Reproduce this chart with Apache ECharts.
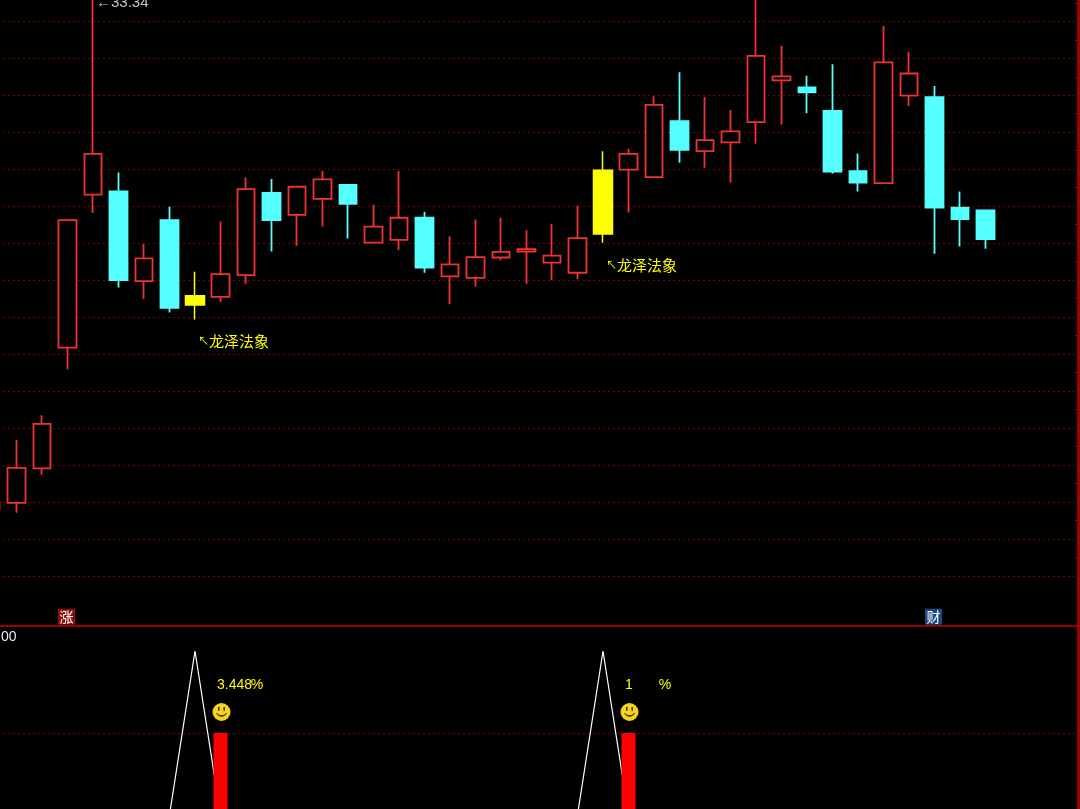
<!DOCTYPE html>
<html>
<head>
<meta charset="utf-8">
<style>
    html, body { margin: 0; padding: 0; background: #000; }
    #chart { width: 1080px; height: 809px; }
</style>
<script src="https://cdn.jsdelivr.net/npm/echarts@6/dist/echarts.min.js"></script>
</head>
<body>
<div id="chart"></div>
<script>
// K线数据
const opens  = [22.23, 22.38, 23.13, 25.74, 29.05, 29.12, 27.18, 28.50, 26.66, 26.84, 27.31, 29.09, 28.61, 28.96, 29.26, 28.01, 28.07, 28.55, 27.28, 27.25, 27.69, 27.82, 27.58, 27.36, 28.20, 29.59, 29.43, 30.64, 29.99, 30.18, 30.62, 31.52, 31.37, 30.86, 29.56, 29.30, 31.19, 31.16, 28.77, 28.71];
const closes = [22.40, 23.14, 24.09, 28.50, 29.93, 27.20, 27.67, 26.60, 26.86, 27.33, 29.17, 28.50, 29.22, 29.38, 28.85, 28.36, 28.55, 27.47, 27.54, 27.70, 27.81, 27.87, 27.73, 28.11, 29.58, 29.93, 30.99, 30.02, 30.23, 30.42, 32.05, 31.61, 31.26, 29.55, 29.31, 31.91, 31.67, 28.77, 28.52, 28.09];
const lows   = [22.05, 22.17, 22.99, 25.27, 28.65, 27.04, 26.79, 26.50, 26.35, 26.73, 27.12, 27.82, 27.94, 28.36, 28.10, 28.01, 27.85, 27.36, 26.68, 27.06, 27.63, 27.12, 27.20, 27.22, 28.01, 28.66, 29.43, 29.74, 29.63, 29.31, 30.15, 30.56, 30.81, 29.50, 29.12, 29.30, 30.97, 27.77, 27.93, 27.88];
const highs  = [22.66, 23.74, 24.28, 28.50, 33.34, 29.53, 27.98, 28.79, 27.38, 28.47, 29.42, 29.39, 29.22, 29.56, 29.28, 28.83, 29.56, 28.68, 28.15, 28.52, 28.55, 28.28, 28.42, 28.81, 29.99, 30.04, 31.18, 31.70, 31.16, 30.88, 33.30, 32.27, 31.62, 31.87, 29.94, 32.70, 32.14, 31.40, 29.12, 28.71];

// 信号日（黄色K线）及其标注
const signalDays = [8, 24];
const signalNotes = ['龙泽法象', '龙泽法象'];
const signalNotePrices = [25.88, 27.53];

// 最高价标注、底部角标
const highNote = '←33.34';
const highNoteDay = 4;
const badgeDays = [3, 37];
const badgeTexts = ['涨', '财'];
const badgeColors = ['#8a1212', '#1c4a80'];
const badgePrice = 19.92;

// 副图：白线尖峰、红柱、笑脸和百分比
const peakLine = [0, 0, 0, 0, 0, 0, 0, 0, 100, 0, 0, 0, 0, 0, 0, 0, 0, 0, 0, 0, 0, 0, 0, 0, 100, 0, 0, 0, 0, 0, 0, 0, 0, 0, 0, 0, 0, 0, 0, 0];
const redBarDays = [9, 25];
const redBarValues = [50, 50];
const faceLevel = 62.8;
const percentLevel = 80;
const percentTexts = ['3.448', '1'];
const subAxisText = '00';

// 后面留白的三根
const categories = opens.map((_, i) => i).concat([40, 41, 42]);

const priceMin = 20.8;
const priceMax = 33.6;
const priceStep = 0.8;

const RED = '#f03232';
const CYAN = '#55ffff';
const YELLOW = '#ffff00';
const GRID_RED = '#a00000';
const DOTS = [1.5, 3.5];
const FONT = '"Liberation Sans", sans-serif';
const CJK = '"Noto Sans CJK SC", sans-serif';

function kline(i) {
    return [opens[i], closes[i], lows[i], highs[i]];
}

// 只放文字的散点
function textSeries(name, xAxisIndex, yAxisIndex, points, label) {
    return {
        name: name,
        type: 'scatter',
        xAxisIndex: xAxisIndex,
        yAxisIndex: yAxisIndex,
        clip: false,
        silent: true,
        symbolSize: 0,
        z: 6,
        itemStyle: { opacity: 1 },
        data: points,
        label: Object.assign({ show: true, formatter: p => p.name }, label)
    };
}

function hiddenCategory(gridIndex) {
    return { type: 'category', gridIndex: gridIndex, data: categories, show: false };
}

const chart = echarts.init(document.getElementById('chart'), null, { renderer: 'canvas' });

chart.setOption({
    animation: false,
    backgroundColor: '#000',
    grid: [
        { left: -21.75, top: -15.7, width: 1096.5, height: 591.7, outerBoundsMode: 'none' },
        { left: -21.75, top: 651, width: 1096.5, height: 164, outerBoundsMode: 'none' },
        { left: 0, top: 0, width: 1078.5, height: 809, outerBoundsMode: 'none' }
    ],
    xAxis: [
        hiddenCategory(0),
        hiddenCategory(1),
        {
            type: 'value',
            gridIndex: 2,
            min: 0,
            max: 1,
            offset: -183,
            axisLine: { show: true, onZero: false, lineStyle: { color: '#c80000', width: 1.5 } },
            axisTick: { show: false },
            axisLabel: { show: false },
            splitLine: { show: false }
        }
    ],
    yAxis: [
        {
            type: 'value',
            gridIndex: 0,
            min: priceMin,
            max: priceMax,
            interval: priceStep,
            axisLine: { show: false },
            axisTick: { show: false },
            axisLabel: { show: false },
            splitLine: {
                showMaxLine: false,
                lineStyle: { color: GRID_RED, width: 1, type: DOTS }
            }
        },
        {
            // 右侧边框上的小刻度
            type: 'value',
            gridIndex: 0,
            position: 'right',
            min: priceMin,
            max: priceMax,
            interval: priceStep,
            axisLine: { show: false },
            axisTick: { show: false },
            axisLabel: { show: false },
            splitLine: { show: false },
            minorTick: { show: true, splitNumber: 2, length: 3, lineStyle: { color: '#a00000', width: 1 } }
        },
        {
            type: 'value',
            gridIndex: 1,
            min: 0,
            max: 100,
            interval: 50,
            axisLine: { show: false },
            axisTick: { show: false },
            axisLabel: { show: false },
            splitLine: {
                showMinLine: false,
                showMaxLine: false,
                lineStyle: { color: GRID_RED, width: 1, type: DOTS }
            }
        },
        {
            type: 'value',
            gridIndex: 2,
            position: 'right',
            min: 0,
            max: 1,
            axisLine: { show: true, onZero: false, lineStyle: { color: '#a00000', width: 3 } },
            axisTick: { show: false },
            axisLabel: { show: false },
            splitLine: { show: false }
        }
    ],
    series: [
        {
            name: 'K线',
            type: 'candlestick',
            xAxisIndex: 0,
            yAxisIndex: 0,
            barWidth: 18,
            itemStyle: { color: '#000', color0: CYAN, borderColor: RED, borderColor0: CYAN, borderWidth: 1.8 },
            data: opens.map((_, i) => (signalDays.includes(i) ? '-' : kline(i)))
        },
        {
            name: '信号',
            type: 'candlestick',
            xAxisIndex: 0,
            yAxisIndex: 0,
            barWidth: 20,
            itemStyle: { color: YELLOW, color0: YELLOW, borderColor: YELLOW, borderColor0: YELLOW, borderWidth: 1.5 },
            data: opens.map((_, i) => (signalDays.includes(i) ? kline(i) : '-'))
        },
        textSeries('标注', 0, 0,
            signalDays.map((d, i) => ({ name: signalNotes[i], value: [d, signalNotePrices[i]] })),
            {
                position: 'right',
                distance: 3,
                formatter: p => '{a|↖}{b|' + p.name + '}',
                rich: {
                    a: { color: YELLOW, fontSize: 11, fontFamily: CJK },
                    b: { color: YELLOW, fontSize: 15, fontFamily: CJK }
                }
            }),
        textSeries('最高', 0, 0,
            [{ name: highNote, value: [highNoteDay, highs[highNoteDay]] }],
            { position: 'right', distance: 2, offset: [1, 7], color: '#c4c4c4', fontSize: 15, fontFamily: FONT }),
        textSeries('角标', 0, 0,
            badgeDays.map((d, i) => ({
                name: badgeTexts[i],
                value: [d, badgePrice],
                label: { backgroundColor: badgeColors[i] }
            })),
            { position: 'inside', offset: [-1, 0], color: '#fff', fontSize: 14, padding: [1, 1.5], fontFamily: CJK }),
        {
            name: '白线',
            type: 'line',
            xAxisIndex: 1,
            yAxisIndex: 2,
            showSymbol: false,
            silent: true,
            z: 2,
            lineStyle: { color: '#fff', width: 1.2 },
            data: peakLine
        },
        {
            name: '红柱',
            type: 'bar',
            xAxisIndex: 1,
            yAxisIndex: 2,
            barWidth: 14,
            silent: true,
            z: 3,
            itemStyle: { color: '#ff0000' },
            data: opens.map((_, i) => {
                const k = redBarDays.indexOf(i);
                return k >= 0 ? redBarValues[k] : null;
            })
        },
        {
            name: '笑脸',
            type: 'scatter',
            xAxisIndex: 1,
            yAxisIndex: 2,
            silent: true,
            symbol: 'circle',
            symbolSize: 18,
            symbolOffset: [1, 0],
            z: 4,
            itemStyle: { color: '#f5d41f', opacity: 1 },
            data: redBarDays.map(d => [d, faceLevel])
        },
        {
            name: '笑脸五官',
            type: 'scatter',
            xAxisIndex: 1,
            yAxisIndex: 2,
            silent: true,
            symbol: 'path://M2 0H3.6V3.2H2ZM7.4 0H9V3.2H7.4ZM0 5.6Q5.5 11.4 11 5.6L10.2 5Q5.5 9.2 0.8 5Z',
            symbolSize: [11, 10],
            symbolKeepAspect: false,
            symbolOffset: [1, 0],
            z: 5,
            itemStyle: { color: '#4a3800', opacity: 1 },
            data: redBarDays.map(d => [d, faceLevel])
        },
        textSeries('百分比', 1, 2,
            redBarDays.map((d, i) => ({ name: percentTexts[i], value: [d, percentLevel] })),
            { position: 'inside', align: 'left', offset: [-3.5, 1], color: YELLOW, fontSize: 14, fontFamily: FONT }),
        textSeries('百分号', 1, 2,
            redBarDays.map(d => ({ name: '%', value: [d, percentLevel] })),
            { position: 'inside', offset: [36.5, 1], color: YELLOW, fontSize: 14, fontFamily: FONT })
    ],
    graphic: [
        {
            type: 'text',
            left: 1,
            top: 630,
            style: { text: subAxisText, fill: '#e8e8e8', font: '14px ' + FONT }
        }
    ]
});
</script>
</body>
</html>
